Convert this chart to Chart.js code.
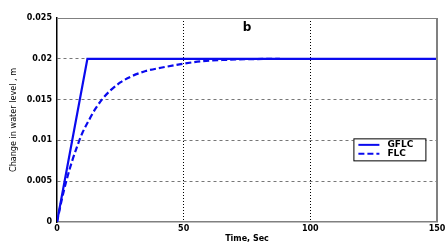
<!DOCTYPE html>
<html><head><meta charset="utf-8">
<script src="https://cdn.jsdelivr.net/npm/chart.js@4.4.1/dist/chart.umd.min.js"></script>
<style>html,body{margin:0;padding:0;background:#fff}#wrap{width:448px;height:249px}</style>
</head><body><div id="wrap"><canvas id="c" width="448" height="249"></canvas></div>
<script>
const gflcTime = [0, 12, 150];
const gflcLevel = [0, 0.02, 0.02];
const flcTime = [0, 2, 4, 6, 8, 10, 13, 15, 18, 21, 25, 29, 35, 41, 50, 57, 65, 75, 88];
const flcLevel = [0, 0.0029, 0.0054, 0.0075, 0.0093, 0.0109, 0.0127, 0.0138, 0.0151, 0.0161, 0.0171, 0.0178, 0.0185, 0.0189, 0.0194, 0.0197, 0.01985, 0.01995, 0.02];
const xTicks = [0, 50, 100, 150];
const yTickLabels = ['0', '0.005', '0.01', '0.015', '0.02', '0.025'];
const seriesNames = ['GFLC', 'FLC'];
const panelLabel = 'b';
const xTitle = 'Time, Sec';
const yTitle = 'Change in water level , m';

const blue = '#0a0aee';
const tickFont = {family: 'DejaVu Sans', size: 8, weight: 'bold'};

const extras = {
  id: 'extras',
  afterDraw(chart) {
    const ctx = chart.ctx, a = chart.chartArea;
    ctx.save();
    ctx.strokeStyle = '#808080';
    ctx.lineWidth = 1;
    ctx.beginPath(); ctx.moveTo(a.left, a.top + 0.5); ctx.lineTo(a.right, a.top + 0.5); ctx.stroke();
    ctx.lineWidth = 2;
    ctx.beginPath(); ctx.moveTo(a.right, a.top); ctx.lineTo(a.right, a.bottom); ctx.stroke();
    ctx.fillStyle = '#000';
    ctx.font = 'bold 12px "DejaVu Sans"';
    ctx.textAlign = 'center'; ctx.textBaseline = 'middle';
    ctx.fillText(panelLabel, (a.left + a.right) / 2, a.top + 10);
    ctx.save();
    ctx.translate(14, (a.top + a.bottom) / 2);
    ctx.rotate(-Math.PI / 2);
    ctx.font = '9px "Liberation Sans Narrow", "DejaVu Sans Condensed", sans-serif';
    ctx.fillText(yTitle, 0, 0);
    ctx.restore();
    const bx = a.left + (a.right - a.left) * 0.78, by = a.top + (a.bottom - a.top) * 0.59;
    const bw = 72, bh = 22;
    ctx.fillStyle = '#fff';
    ctx.fillRect(bx, by, bw, bh);
    ctx.strokeStyle = '#000'; ctx.lineWidth = 1;
    ctx.strokeRect(bx + 0.5, by + 0.5, bw, bh);
    ctx.strokeStyle = blue; ctx.lineWidth = 2;
    ctx.beginPath(); ctx.moveTo(bx + 5, by + 6.5); ctx.lineTo(bx + 26, by + 6.5); ctx.stroke();
    ctx.setLineDash([6, 3]);
    ctx.beginPath(); ctx.moveTo(bx + 5, by + 15.5); ctx.lineTo(bx + 26, by + 15.5); ctx.stroke();
    ctx.setLineDash([]);
    ctx.fillStyle = '#000';
    ctx.font = 'bold 9px "DejaVu Sans"';
    ctx.textAlign = 'left';
    ctx.fillText(seriesNames[0], bx + 34, by + 6.5);
    ctx.fillText(seriesNames[1], bx + 34, by + 15.5);
    ctx.restore();
  }
};

new Chart(document.getElementById('c'), {
  type: 'scatter',
  data: {
    datasets: [
      {label: seriesNames[0], data: gflcTime.map((t, i) => ({x: t, y: gflcLevel[i]})), showLine: true,
       borderColor: blue, borderWidth: 2.2, pointRadius: 0, tension: 0},
      {label: seriesNames[1], data: flcTime.map((t, i) => ({x: t, y: flcLevel[i]})), showLine: true,
       borderColor: blue, borderWidth: 2.2, borderDash: [6, 3], pointRadius: 0, cubicInterpolationMode: 'monotone'}
    ]
  },
  options: {
    responsive: false, animation: false,
    layout: {padding: {top: 18, right: 11, left: 0, bottom: 0}},
    plugins: {legend: {display: false}, tooltip: {enabled: false}},
    scales: {
      x: {
        type: 'linear', min: 0, max: 150,
        afterBuildTicks: s => { s.ticks = xTicks.map(v => ({value: v})); },
        afterFit: s => { s.height = 27; },
        ticks: {color: '#000', font: tickFont, padding: 2, maxRotation: 0, callback: v => String(v)},
        grid: {color: c => (c.tick && (c.tick.value === 50 || c.tick.value === 100)) ? '#000' : 'rgba(0,0,0,0)',
               drawTicks: false, lineWidth: 1},
        border: {color: '#808080', width: 1.5, dash: [1, 2]},
        title: {display: true, text: xTitle, color: '#000', font: tickFont, padding: {top: 0, bottom: 5}}
      },
      y: {
        min: 0, max: 0.025,
        afterBuildTicks: s => { s.ticks = yTickLabels.map((l, i) => ({value: i * 0.005})); },
        afterFit: s => { s.width = 57; },
        ticks: {color: '#000', font: tickFont, padding: 5, callback: (v, i) => yTickLabels[i]},
        grid: {color: c => (c.tick && c.tick.value > 0.001 && c.tick.value < 0.024) ? '#555' : 'rgba(0,0,0,0)',
               drawTicks: false, lineWidth: 0.8},
        border: {color: '#000', width: 1.5, dash: [3, 3]}
      }
    }
  },
  plugins: [extras]
});
</script></body></html>
